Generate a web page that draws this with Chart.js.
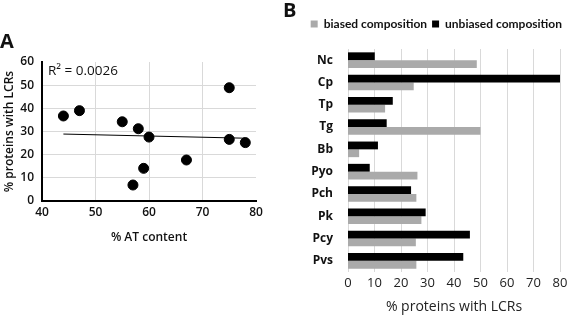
<!DOCTYPE html>
<html>
<head>
<meta charset="utf-8">
<script src="https://cdn.jsdelivr.net/npm/chart.js@4/dist/chart.umd.min.js"></script>
<style>
    body { margin: 0; background: #fff; width: 567px; height: 315px; position: relative; overflow: hidden; font-family: "Open Sans", sans-serif; }
    .tag { position: absolute; font-weight: 700; font-size: 20px; color: #111; line-height: 1; }
    #wrapA { position: absolute; left: 0; top: 0; width: 280px; height: 315px; }
    #wrapB { position: absolute; left: 280px; top: 0; width: 287px; height: 315px; }
</style>
</head>
<body>
<div id="wrapA"><canvas id="chartA" width="280" height="315"></canvas></div>
<div id="wrapB"><canvas id="chartB" width="287" height="315"></canvas></div>
<div class="tag" style="left:0px;top:31px;">A</div>
<div class="tag" style="left:283px;top:0px;">B</div>
<script>
// ---------------- DATA : panel A ----------------
const atContent = [44, 47, 55, 58, 60, 59, 57, 67, 75, 75, 78];
const lcrPercent = [36.7, 39.0, 34.2, 31.2, 27.6, 14.1, 6.9, 17.7, 48.9, 26.6, 25.2];
const trendX = [44, 78];
const trendY = [28.9, 27.1];
const rSquaredLabel = "R² = 0.0026";

// ---------------- DATA : panel B ----------------
const species = ["Nc", "Cp", "Tp", "Tg", "Bb", "Pyo", "Pch", "Pk", "Pcy", "Pvs"];
const biased = [48.6, 24.8, 14.0, 50.0, 4.2, 26.2, 25.8, 27.7, 25.6, 25.8];
const unbiased = [10.1, 80.0, 16.9, 14.6, 11.3, 8.2, 23.8, 29.3, 46.0, 43.5];

const FONT = "'Open Sans', sans-serif";
const GRID = "#d9d9d9";

// ================= PANEL A : SCATTER =================
const rSquaredPlugin = {
    id: "rSquared",
    afterDatasetsDraw(chart) {
        const ctx = chart.ctx;
        const area = chart.chartArea;
        ctx.save();
        ctx.font = "13.5px " + FONT;
        ctx.fillStyle = "#111";
        ctx.textBaseline = "middle";
        ctx.fillText(rSquaredLabel, area.left + 6, area.top + 9);
        ctx.restore();
    }
};

new Chart(document.getElementById("chartA"), {
    type: "scatter",
    data: {
        datasets: [
            {
                data: atContent.map((x, i) => ({ x: x, y: lcrPercent[i] })),
                backgroundColor: "#000",
                borderColor: "#000",
                pointRadius: 5,
            },
            {
                data: trendX.map((x, i) => ({ x: x, y: trendY[i] })),
                showLine: true,
                borderColor: "#000",
                borderWidth: 1,
                pointRadius: 0,
            }
        ]
    },
    options: {
        responsive: false,
        animation: false,
        devicePixelRatio: 1,
        layout: { padding: { top: 62, right: 24, bottom: 66, left: 0 } },
        plugins: { legend: { display: false }, tooltip: { enabled: false } },
        scales: {
            x: {
                min: 40, max: 80,
                ticks: { stepSize: 10, padding: 4, color: "#111", font: { family: FONT, size: 12, weight: 600 } },
                grid: {
                    drawTicks: false,
                    color: (c) => (c.tick && c.tick.value === 80 ? "rgba(0,0,0,0)" : GRID),
                },
                border: { color: "#000", width: 2 },
                title: { display: true, text: "% AT content", color: "#111", padding: { top: 4, bottom: 4 }, font: { family: FONT, size: 12, weight: 600 } },
                afterFit: (s) => { s.height = 48; },
            },
            y: {
                min: 0, max: 60,
                ticks: { stepSize: 10, padding: 8, color: "#111", font: { family: FONT, size: 12, weight: 600 } },
                grid: {
                    drawTicks: false,
                    color: (c) => (c.tick && c.tick.value === 60 ? "rgba(0,0,0,0)" : GRID),
                },
                border: { color: "#000", width: 2 },
                title: { display: true, text: "% proteins with LCRs", color: "#111", padding: { top: 2, bottom: 2 }, font: { family: FONT, size: 12, weight: 600 } },
                afterFit: (s) => { s.width = 42; },
            }
        }
    },
    plugins: [rSquaredPlugin]
});

// ================= PANEL B : HORIZONTAL BARS =================
new Chart(document.getElementById("chartB"), {
    type: "bar",
    data: {
        labels: species,
        datasets: [
            { label: "unbiased composition", data: unbiased, backgroundColor: "#000" },
            { label: "biased composition", data: biased, backgroundColor: "#aaaaaa" }
        ]
    },
    options: {
        indexAxis: "y",
        responsive: false,
        animation: false,
        devicePixelRatio: 1,
        categoryPercentage: 0.7,
        barPercentage: 1.0,
        layout: { padding: { top: 13, right: 0, bottom: 0, left: 0 } },
        plugins: {
            tooltip: { enabled: false },
            legend: {
                position: "top",
                align: "end",
                reverse: true,
                labels: {
                    boxWidth: 7, boxHeight: 7, padding: 5,
                    color: "#111",
                    font: { family: "Lato, sans-serif", size: 12, weight: 700 },
                }
            }
        },
        scales: {
            // empty top band: just keeps the gap between legend and bars
            gap: {
                axis: "x",
                position: "top",
                display: true,
                ticks: { display: false },
                grid: { display: false },
                border: { display: false },
                afterFit: (s) => { s.height = 9; },
            },
            x: {
                min: 0, max: 80,
                ticks: { stepSize: 10, padding: 3, color: "#222", font: { family: FONT, size: 13 } },
                grid: { drawTicks: false, color: GRID },
                border: { display: false },
                title: { display: true, text: "% proteins with LCRs", color: "#222", padding: { top: 2, bottom: 0 }, font: { family: FONT, size: 14 } },
                afterFit: (s) => { s.height = 43; s.paddingRight = 7; },
            },
            y: {
                ticks: { padding: 7, color: "#111", font: { family: FONT, size: 12, weight: 700 } },
                grid: { display: false },
                border: { display: false },
                afterFit: (s) => { s.width = 68; },
            }
        }
    }
});
</script>
</body>
</html>
